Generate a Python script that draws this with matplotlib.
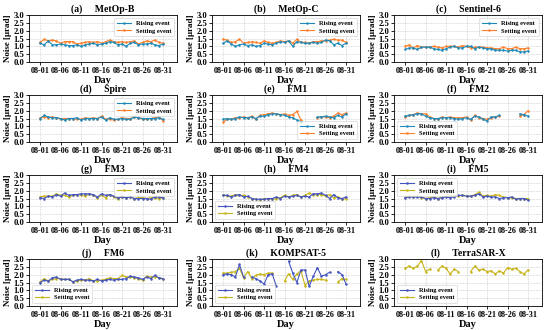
import numpy as np
import matplotlib
matplotlib.use("Agg")
import matplotlib.pyplot as plt

N = np.nan
days = [f"08-{d:02d}" for d in range(1, 32)]
tick_labels = ["08-01", "08-06", "08-11", "08-16", "08-21", "08-26", "08-31"]

titles = ["(a)     MetOp-B", "(b)     MetOp-C", "(c)     Sentinel-6", "(d)     Spire",
          "(e)     FM1", "(f)     FM2", "(g)     FM3", "(h)     FM4",
          "(i)     FM5", "(j)     FM6", "(k)     KOMPSAT-5", "(l)     TerraSAR-X"]

metopb_rise = [1.2,1.1,1.35,1.1,1.1,1.15,1.1,1.05,1.05,1.1,1.0,1.1,1.15,1.2,1.1,1.15,1.2,1.3,1.25,1.1,1.15,1.0,1.2,1.25,1.1,1.15,1.15,1.2,1.1,1.05,1.15]
metopb_set = [1.25,1.45,1.35,1.4,1.35,1.2,1.3,1.3,1.3,1.15,1.2,1.25,1.3,1.25,1.3,1.2,1.3,1.4,1.3,1.25,1.3,1.25,1.3,1.35,1.15,1.25,1.35,1.3,1.4,1.25,1.2]
metopc_rise = [1.2,1.35,1.15,1.0,1.1,1.15,1.05,1.1,1.0,1.05,1.2,1.15,1.1,1.2,1.3,1.25,1.35,1.0,1.3,1.25,1.2,1.2,1.25,1.2,1.25,1.4,1.35,1.1,1.2,1.05,1.2]
metopc_set = [1.45,1.4,1.25,1.3,1.45,1.2,1.25,1.3,1.25,1.2,1.35,1.25,1.2,1.25,1.35,1.3,1.35,1.2,1.45,1.25,1.25,1.2,1.3,1.3,1.35,1.35,1.4,1.45,1.4,1.4,1.25]
sent6_rise = [0.8,0.9,0.9,0.8,0.95,0.95,0.95,0.85,0.8,0.75,0.85,0.95,1.0,0.9,0.9,1.0,1.0,0.85,0.95,0.9,0.85,0.85,0.75,0.75,0.75,0.7,0.75,0.75,0.65,0.65,0.7]
sent6_set = [1.0,1.1,0.9,1.05,0.95,0.95,0.95,1.0,0.95,0.9,1.0,1.0,1.0,0.95,1.05,1.0,0.9,0.95,0.95,0.95,0.9,0.9,0.85,0.85,0.95,0.85,0.85,0.95,0.85,0.85,0.9]
spire_rise = [1.5,1.7,1.6,1.55,1.55,1.5,1.4,1.5,1.5,1.55,1.4,1.5,1.5,1.5,1.5,1.6,1.4,1.55,1.45,1.45,1.5,1.45,1.45,1.6,1.55,1.5,1.5,1.5,1.5,1.55,1.45]
spire_set = [1.55,1.6,1.55,1.6,1.55,1.45,1.5,1.5,1.5,1.45,1.45,1.55,1.5,1.55,1.5,1.65,1.45,1.45,1.4,1.45,1.55,1.5,1.5,1.6,1.55,1.45,1.45,1.5,1.55,1.6,1.35]
fm1_rise = [1.45,1.5,1.45,1.5,1.6,1.55,1.55,1.6,1.5,1.65,1.65,1.75,1.8,1.8,1.75,1.7,1.6,1.55,1.4,1.3,N,N,N,1.6,1.6,1.65,1.6,1.55,1.7,1.6,1.8]
fm1_set = [1.25,1.45,1.45,1.55,1.55,1.6,1.55,1.65,1.45,1.7,1.75,1.8,1.85,1.8,1.75,1.8,1.7,1.75,1.95,1.4,N,N,N,1.55,1.6,1.6,1.55,1.65,1.85,1.75,1.85]
fm2_rise = [1.65,1.7,1.75,1.8,1.8,1.65,1.55,1.5,1.5,1.55,1.55,1.55,1.5,1.45,1.5,1.55,1.45,1.65,1.6,1.45,1.35,1.6,1.6,1.7,N,N,N,N,1.8,1.75,1.65]
fm2_set = [1.6,1.7,1.75,1.85,1.8,1.8,1.6,1.5,1.45,1.6,1.55,1.6,1.55,1.55,1.55,1.6,1.4,1.7,1.55,1.5,1.45,1.55,1.6,1.65,N,N,N,N,1.65,1.75,2.0]
fm3_rise = [1.55,1.5,1.65,1.6,1.75,1.65,1.85,1.7,1.75,1.75,1.8,1.8,1.8,1.75,1.6,1.8,1.7,1.75,1.65,1.55,1.6,1.55,1.6,1.5,1.5,1.5,1.5,1.45,1.6,1.6,1.55]
fm3_set = [1.6,1.65,1.65,1.65,1.8,1.7,1.7,1.6,1.7,1.75,1.7,1.65,1.8,1.7,1.55,1.7,1.55,1.75,1.6,1.5,1.6,1.55,1.6,1.5,1.55,1.55,1.5,1.55,1.55,1.5,1.55]
fm4_rise = [1.7,1.7,1.6,1.7,1.75,1.6,1.65,1.5,1.45,1.45,1.45,1.5,1.5,1.6,1.5,1.65,1.6,1.65,1.7,1.6,1.65,1.6,1.8,1.8,1.85,1.7,1.5,1.75,1.55,1.5,1.6]
fm4_set = [1.75,1.65,1.65,1.75,1.7,1.7,1.6,1.5,1.45,1.4,1.5,1.5,1.45,1.5,1.55,1.7,1.6,1.7,1.75,1.6,1.7,1.85,1.75,1.75,1.75,1.65,1.75,1.55,1.6,1.45,1.5]
fm5_rise = [1.55,1.6,1.6,1.6,1.6,1.5,1.5,1.55,1.5,1.55,1.6,1.55,1.6,1.7,1.7,1.65,1.65,1.7,1.8,1.6,1.65,1.6,1.6,1.5,1.55,1.55,1.6,1.45,1.5,1.5,1.4]
fm5_set = [1.6,1.65,1.6,1.65,1.55,1.5,1.55,1.6,1.5,1.6,1.65,1.65,1.7,1.65,1.7,1.65,1.65,1.75,1.9,1.65,1.7,1.65,1.75,1.7,1.6,1.55,1.55,1.5,1.5,1.5,1.5]
fm6_rise = [1.5,1.65,1.6,1.8,1.85,1.7,1.7,1.7,1.55,1.65,1.7,1.65,1.65,1.6,1.7,1.6,1.65,1.7,1.65,1.7,1.7,1.75,1.9,1.85,1.8,1.7,1.85,1.75,1.95,1.8,1.75]
fm6_set = [1.55,1.75,1.6,1.7,1.75,1.75,1.7,1.7,1.55,1.6,1.65,1.65,1.75,1.6,1.6,1.65,1.7,1.8,1.75,1.75,1.95,1.85,1.85,1.8,1.75,1.65,1.9,1.85,1.85,1.8,1.7]
komp_rise = [2.0,2.05,2.0,1.85,2.65,1.85,N,1.85,1.75,1.6,1.4,2.0,2.05,1.25,N,N,2.85,2.1,1.5,2.3,2.3,1.25,1.9,2.45,1.9,2.0,2.15,N,2.2,2.0,1.4]
komp_set = [2.1,2.1,2.15,2.2,2.4,1.8,2.2,1.75,1.95,2.05,2.0,2.1,2.1,N,N,1.6,2.05,1.7,2.05,2.25,1.3,1.6,1.65,1.7,1.7,1.65,N,N,1.55,1.75,1.7]
terra_rise = [N] * 31
terra_set = [2.4,2.55,2.4,2.55,2.9,2.2,2.35,N,2.3,2.55,2.4,2.05,2.35,2.2,N,N,2.2,2.55,2.3,2.35,2.2,2.25,2.05,2.25,2.1,2.45,2.35,2.4,2.2,2.05,2.3]

rising = [metopb_rise, metopc_rise, sent6_rise, spire_rise, fm1_rise, fm2_rise,
          fm3_rise, fm4_rise, fm5_rise, fm6_rise, komp_rise, terra_rise]
setting = [metopb_set, metopc_set, sent6_set, spire_set, fm1_set, fm2_set,
           fm3_set, fm4_set, fm5_set, fm6_set, komp_set, terra_set]
legend_locs = ["upper right", "upper right", "upper right", "upper right", "lower right", "lower left",
               "upper right", "lower left", "upper left", "lower left", "lower left", "lower left"]

plt.rcParams['font.family'] = ['Liberation Serif', 'DejaVu Serif']
plt.rcParams['font.weight'] = 'bold'

W, H = 550, 330
fig = plt.figure(figsize=(5.5, 3.3), dpi=100)
col_left = [29, 212, 394]
row_top = [15, 95, 175, 259]
aw, ah = 148, 47

x = np.arange(len(days))
tick_pos = [days.index(t) for t in tick_labels]
yt = np.arange(0, 3.01, 0.5)

for i in range(12):
    r, c = divmod(i, 3)
    ax = fig.add_axes([col_left[c] / W, 1 - (row_top[r] + ah) / H, aw / W, ah / H])
    if i < 6:
        cr, cs = "#1f8ab8", "#ff7f2a"
    else:
        cr, cs = "#4455c0", "#c8b416"
    ax.plot(x, rising[i], color=cr, marker='o', ms=1.8, mew=0, lw=0.8, label="Rising event", zorder=3)
    ax.plot(x, setting[i], color=cs, marker='o', ms=1.8, mew=0, lw=0.8, label="Setting event", zorder=2)
    ax.set_xlim(-2.7, 33.4)
    ax.set_ylim(0, 3.0)
    ax.set_yticks(yt)
    ax.set_yticklabels([f"{v:.1f}" for v in yt], fontsize=6.2, fontweight='bold')
    ax.set_xticks(tick_pos)
    ax.set_xticklabels(tick_labels, fontsize=5.9, fontweight='bold')
    ax.tick_params(length=2, width=0.6, pad=1.5)
    ax.grid(True, ls='--', lw=0.4, color='#cccccc')
    for s in ax.spines.values():
        s.set_linewidth(0.6)
    ax.set_title(titles[i], fontsize=7, fontweight='bold', pad=2.5)
    ax.set_xlabel("Day", fontsize=7.5, fontweight='bold', labelpad=0.5)
    ax.set_ylabel("Noise [μrad]", fontsize=6.5, fontweight='bold', labelpad=1)
    leg = ax.legend(loc=legend_locs[i], frameon=True, handlelength=2.2,
                    borderpad=0.4, labelspacing=0.3, prop={'weight': 'bold', 'size': 4.6})
    leg.get_frame().set_linewidth(0.5)

fig.savefig("out.png", dpi=100)
